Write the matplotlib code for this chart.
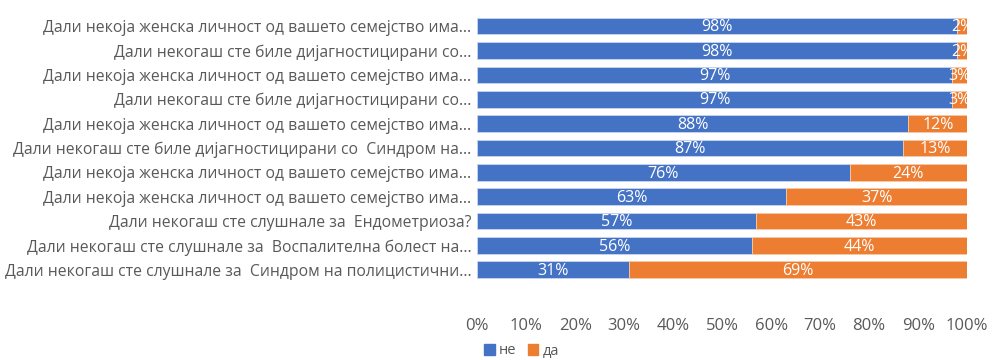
import matplotlib
matplotlib.use("Agg")
import matplotlib.pyplot as plt
from matplotlib.ticker import PercentFormatter
from matplotlib.patches import Patch

plt.rcParams['font.family'] = ['Open Sans', 'DejaVu Sans']

questions = [
    "Дали некоја женска личност од вашето семејство има...",
    "Дали некогаш сте биле дијагностицирани со...",
    "Дали некоја женска личност од вашето семејство има...",
    "Дали некогаш сте биле дијагностицирани со...",
    "Дали некоја женска личност од вашето семејство има...",
    "Дали некогаш сте биле дијагностицирани со  Синдром на...",
    "Дали некоја женска личност од вашето семејство има...",
    "Дали некоја женска личност од вашето семејство има...",
    "Дали некогаш сте слушнале за  Ендометриоза?",
    "Дали некогаш сте слушнале за  Воспалителна болест на...",
    "Дали некогаш сте слушнале за  Синдром на полицистични...",
]
ne = [98, 98, 97, 97, 88, 87, 76, 63, 57, 56, 31]
da = [2, 2, 3, 3, 12, 13, 24, 37, 43, 44, 69]
series_names = ["не", "да"]
ticks = [0, 10, 20, 30, 40, 50, 60, 70, 80, 90, 100]

blue = "#4472C4"
orange = "#ED7D31"
grey = "#595959"

fig = plt.figure(figsize=(9.94, 3.6), dpi=100)
ax = fig.add_axes([0.48, 0.217, 0.493, 0.744])

y = list(range(len(questions)))
ax.barh(y, ne, height=0.68, color=blue, edgecolor="#c9d6ee", linewidth=0.6)
ax.barh(y, da, left=ne, height=0.68, color=orange, edgecolor="#f5c9a8", linewidth=0.6)

for i, (a, b) in enumerate(zip(ne, da)):
    ax.text(a / 2, i + 0.05, f"{a}%", ha="center", va="center", color="white", fontsize=11.5)
    ax.text(a + b / 2, i + 0.05, f"{b}%", ha="center", va="center", color="white", fontsize=11.5)

ax.set_xlim(0, 100)
ax.set_ylim(len(questions) - 0.5, -0.5)
ax.set_yticks(y)
ax.set_yticklabels(questions, fontsize=11.3, color=grey)
ax.set_xticks(ticks)
ax.xaxis.set_major_formatter(PercentFormatter(decimals=0))
ax.tick_params(axis="x", labelsize=12, colors=grey, length=0, pad=26)
ax.tick_params(axis="y", length=0, pad=4)
for s in ax.spines.values():
    s.set_visible(False)

handles = [Patch(color=blue), Patch(color=orange)]
fig.legend(handles, series_names, loc="center", bbox_to_anchor=(0.525, 0.025),
           ncol=2, frameon=False, fontsize=10.5, handlelength=0.7, handleheight=0.7,
           handletextpad=0.3, columnspacing=0.8, labelcolor=grey)

fig.savefig("out.png", dpi=100)
